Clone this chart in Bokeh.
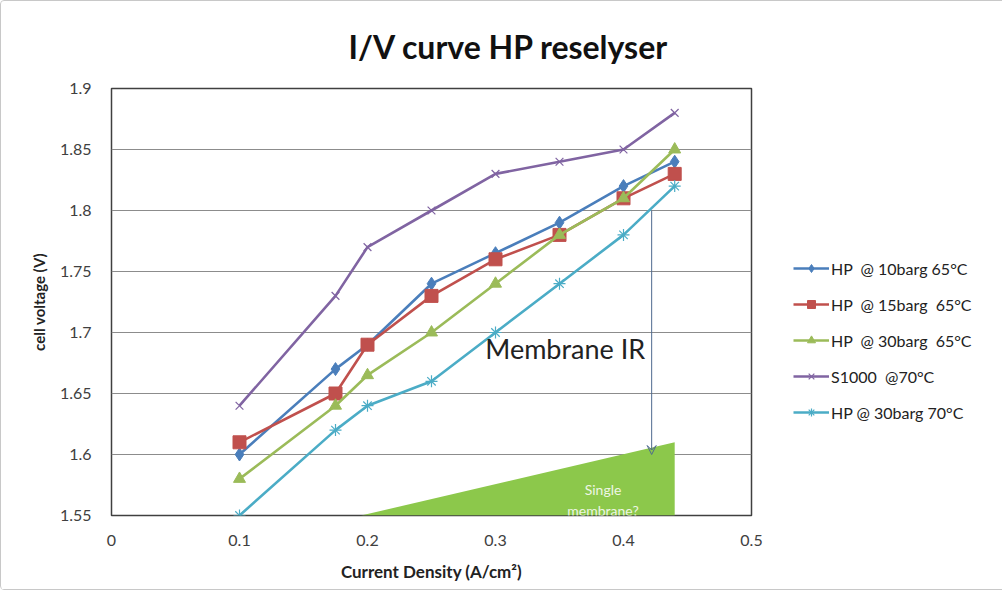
from bokeh.plotting import figure
from bokeh.models import (Legend, LegendItem, FixedTicker, Label, Arrow, VeeHead, Range1d)
from bokeh.embed import file_html
from bokeh.resources import INLINE

# ---- data ----
current_density = [0.1, 0.175, 0.2, 0.25, 0.3, 0.35, 0.4, 0.44]
hp_10barg_65 = [1.60, 1.67, 1.69, 1.74, 1.765, 1.79, 1.82, 1.84]
hp_15barg_65 = [1.61, 1.65, 1.69, 1.73, 1.76, 1.78, 1.81, 1.83]
hp_30barg_65 = [1.58, 1.64, 1.665, 1.70, 1.74, 1.78, 1.81, 1.85]
s1000_70 = [1.64, 1.73, 1.77, 1.80, 1.83, 1.84, 1.85, 1.88]
hp_30barg_70 = [1.55, 1.62, 1.64, 1.66, 1.70, 1.74, 1.78, 1.82]

series_names = ["HP  @ 10barg 65°C", "HP  @ 15barg  65°C", "HP  @ 30barg  65°C",
                "S1000  @70°C", "HP @ 30barg 70°C"]

x_ticks = [0, 0.1, 0.2, 0.3, 0.4, 0.5]
x_tick_labels = ["0", "0.1", "0.2", "0.3", "0.4", "0.5"]
y_ticks = [1.55, 1.6, 1.65, 1.7, 1.75, 1.8, 1.85, 1.9]
y_tick_labels = ["1.55", "1.6", "1.65", "1.7", "1.75", "1.8", "1.85", "1.9"]

# single-membrane wedge and arrow
wedge_x = [0.195, 0.44, 0.44]
wedge_y = [1.55, 1.61, 1.55]
arrow_x = 0.422
arrow_y_start = 1.80
arrow_y_end = 1.60

FONT = "Lato"

p = figure(width=986, height=588, output_backend="svg", toolbar_location=None,
           x_range=Range1d(0, 0.5), y_range=Range1d(1.55, 1.9),
           frame_width=640, frame_height=427,
           min_border_left=110, min_border_right=236, min_border_top=87, min_border_bottom=74)
p.styles = {"border": "1px solid #c8c8c8", "border-radius": "4px"}
p.background_fill_color = "white"
p.border_fill_color = "white"
p.outline_line_color = "#404040"
p.outline_line_width = 1.5

p.title.text = "I/V curve HP reselyser"
p.title.text_font = FONT
p.title.text_font_size = "32px"
p.title.text_font_style = "bold"
p.title.text_color = "#111111"
p.title.align = "left"
p.title.offset = 237
p.title.standoff = 46

p.xgrid.grid_line_color = None
p.ygrid.grid_line_color = "#8c8c8c"
p.ygrid.grid_line_width = 1

p.xaxis.ticker = FixedTicker(ticks=x_ticks)
p.yaxis.ticker = FixedTicker(ticks=y_ticks)
p.xaxis.major_label_overrides = {t: l for t, l in zip(x_ticks, x_tick_labels)}
p.yaxis.major_label_overrides = {t: l for t, l in zip(y_ticks, y_tick_labels)}
for ax in (p.xaxis, p.yaxis):
    ax.axis_line_color = None
    ax.major_tick_line_color = None
    ax.minor_tick_line_color = None
    ax.major_tick_out = 0
    ax.major_tick_in = 0
    ax.major_label_text_font = FONT
    ax.major_label_text_font_size = "16px"
    ax.major_label_text_color = "#404040"
    ax.axis_label_text_font = FONT
    ax.axis_label_text_font_style = "bold"
    ax.axis_label_text_color = "#222222"
p.xaxis.major_label_standoff = 19
p.yaxis.major_label_standoff = 20
p.xaxis.axis_label = "Current Density (A/cm²)"
p.xaxis.axis_label_text_font_size = "17px"
p.xaxis.axis_label_standoff = 12
p.yaxis.axis_label = "cell voltage (V)"
p.yaxis.axis_label_text_font_size = "15px"
p.yaxis.axis_label_standoff = 9

# wedge
p.patch(wedge_x, wedge_y, fill_color="#8cc84b", line_color=None)

colors = ["#4a7ebb", "#c0504d", "#9bbb59", "#8064a2", "#4bacc6"]
ys = [hp_10barg_65, hp_15barg_65, hp_30barg_65, s1000_70, hp_30barg_70]
markers = ["diamond", "square", "triangle", "x", "asterisk"]
sizes = [13, 13, 12, 11, 12]

items = []
for name, y, c, m, s in zip(series_names, ys, colors, markers, sizes):
    ln = p.line(current_density, y, line_color=c, line_width=2.6)
    if m in ("x", "asterisk"):
        mk = p.scatter(current_density, y, marker=m, size=s, line_color=c, line_width=1.2, fill_color=None)
    else:
        mk = p.scatter(current_density, y, marker=m, size=s, line_color=c, fill_color=c)
    items.append(LegendItem(label=name, renderers=[ln, mk]))

legend = Legend(items=items, location=(42, 93), border_line_color=None,
                background_fill_alpha=0, padding=0, margin=0, spacing=16,
                glyph_width=36, glyph_height=20, label_standoff=2,
                label_text_font=FONT, label_text_font_size="16px", label_text_color="#222222")
p.add_layout(legend, "right")

# arrow
p.add_layout(Arrow(end=VeeHead(size=9, line_color="#4f6a8f", line_width=1, fill_color=None),
                   x_start=arrow_x, y_start=arrow_y_start, x_end=arrow_x, y_end=arrow_y_end,
                   line_color="#4f6a8f", line_width=1))

# texts
p.add_layout(Label(x=0.292, y=1.687, text="Membrane IR", text_font=FONT, text_font_size="27px",
                   text_color="#222222", text_baseline="middle"))
p.add_layout(Label(x=0.384, y=1.571, text="Single", text_font=FONT, text_font_size="14px",
                   text_color="#eef6e4", text_align="center", text_baseline="middle"))
p.add_layout(Label(x=0.384, y=1.5545, text="membrane?", text_font=FONT, text_font_size="14px",
                   text_color="#eef6e4", text_align="center", text_baseline="middle"))

open("out.html", "w").write(file_html(p, INLINE))
